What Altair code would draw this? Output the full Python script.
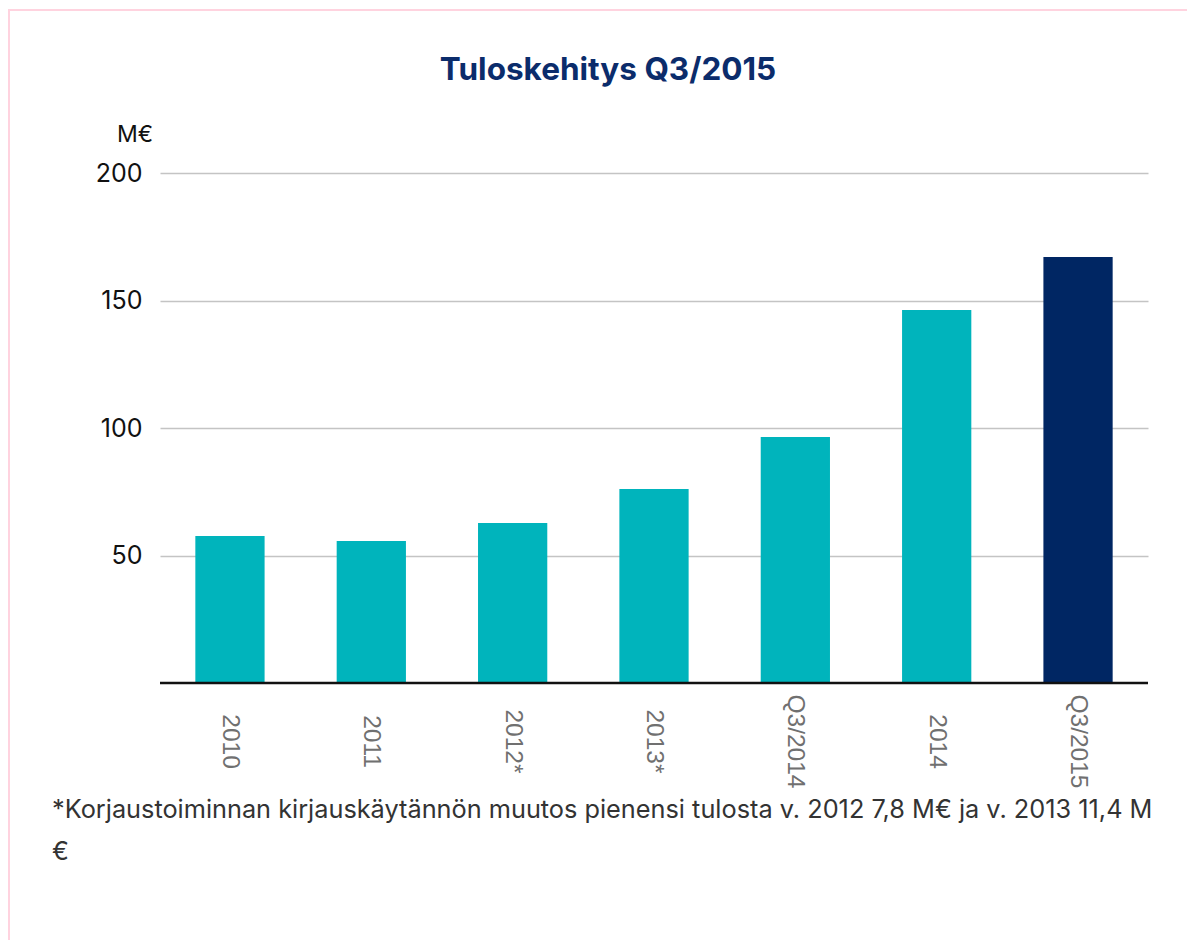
import altair as alt
import pandas as pd

categories = ["2010", "2011", "2012*", "2013*", "Q3/2014", "2014", "Q3/2015"]
values = [57.6, 55.7, 62.7, 76.1, 96.5, 146.3, 167.1]
highlight = [False, False, False, False, False, False, True]
y_ticks = [50, 100, 150, 200]

title_text = "Tuloskehitys Q3/2015"
unit_text = "M€"
footnote_lines = [
    "*Korjaustoiminnan kirjauskäytännön muutos pienensi tulosta v. 2012 7,8 M€ ja v. 2013 11,4 M",
    "€",
]

df = pd.DataFrame({"cat": categories, "val": values, "hl": highlight})

W, H = 988, 510
TEAL = "#00B4BC"
NAVY = "#002663"
FONT = "Inter"

x_enc = alt.X(
    "cat:N",
    sort=categories,
    scale=alt.Scale(paddingInner=0.51, paddingOuter=0.25),
    axis=alt.Axis(
        title=None,
        labelAngle=90,
        labelAlign="center",
        labelBaseline="middle",
        labelFont="Liberation Sans",
        labelFontSize=24.5,
        labelColor="#707070",
        labelPadding=58,
        ticks=False,
        domain=False,
        grid=False,
    ),
)
y_enc = alt.Y(
    "val:Q",
    scale=alt.Scale(domain=[0, 200], nice=False),
    axis=alt.Axis(
        title=None,
        values=y_ticks,
        labelFont=FONT,
        labelFontSize=25,
        labelColor="#111111",
        labelPadding=18,
        ticks=False,
        domain=False,
        grid=True,
        gridColor="#c4c4c4",
        gridWidth=1.5,
    ),
)

bars = alt.Chart(df).mark_bar().encode(
    x=x_enc,
    y=y_enc,
    color=alt.Color(
        "hl:N",
        scale=alt.Scale(domain=[False, True], range=[TEAL, NAVY]),
        legend=None,
    ),
)

baseline = alt.Chart(pd.DataFrame({"v": [0]})).mark_rule(
    color="#111111", strokeWidth=2.5
).encode(y=alt.Y("v:Q", scale=alt.Scale(domain=[0, 200])), x=alt.value(0), x2=alt.value(W))

one = pd.DataFrame({"a": [0]})

title = alt.Chart(one).mark_text(
    text=title_text,
    font=FONT,
    fontSize=31.5,
    fontWeight="bold",
    color="#0B2C6B",
    align="center",
    baseline="middle",
).encode(x=alt.value(448), y=alt.value(-102))

unit = alt.Chart(one).mark_text(
    text=unit_text,
    font=FONT,
    fontSize=23,
    color="#111111",
    align="right",
    baseline="middle",
).encode(x=alt.value(-7), y=alt.value(-38))

foot = alt.Chart(one).mark_text(
    text=footnote_lines,
    font=FONT,
    fontSize=25.3,
    color="#333333",
    align="left",
    baseline="top",
    lineHeight=42,
).encode(x=alt.value(-108), y=alt.value(625))

border = alt.Chart(one).mark_rect(
    fill=None, stroke="#FFD3DF", strokeWidth=2
).encode(x=alt.value(-151), x2=alt.value(1100), y=alt.value(-163), y2=alt.value(900))

chart = alt.layer(border, bars, baseline, title, unit, foot).properties(
    width=W,
    height=H,
    autosize=alt.AutoSizeParams(type="none"),
    padding={"left": 152, "top": 165, "right": 39, "bottom": 257},
).configure_view(stroke=None)

chart.save("out.html", embed_options={"renderer": "svg", "actions": False})
